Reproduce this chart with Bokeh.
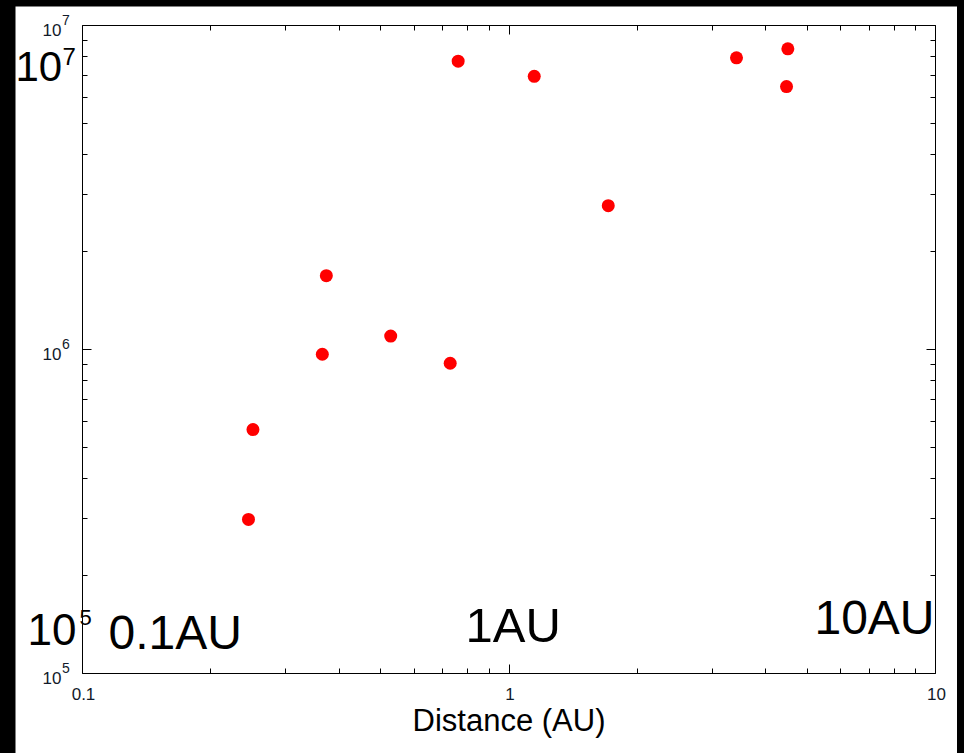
from bokeh.plotting import figure
from bokeh.models import LogAxis, Label, Range1d, FixedTicker
from bokeh.layouts import column
from bokeh.embed import file_html
from bokeh.resources import INLINE

# Measured points: orbital distance (AU) and value
distance_au = [0.245, 0.251, 0.365, 0.373, 0.528, 0.728, 0.760, 1.146, 1.709, 3.415, 4.506, 4.474]
values = [2.99e5, 5.66e5, 9.67e5, 1.69e6, 1.10e6, 9.07e5, 7.76e6, 6.97e6, 2.78e6, 7.95e6, 8.47e6, 6.48e6]

x_ticks = [0.1, 1, 10]
x_tick_labels = ["0.1", "1", "10"]
x_minor_ticks = [m * d for d in (0.1, 1) for m in range(2, 10)]
y_ticks = [1e5, 1e6, 1e7]
y_tick_exponents = ["5", "6", "7"]
y_minor_ticks = [m * d for d in (1e5, 1e6) for m in range(2, 10)]

x_title = "Distance (AU)"
au_marks = [0.1, 1, 10]
au_mark_labels = ["0.1AU", "1AU", "10AU"]

FONT = "Liberation Sans"

# Page geometry (pixels): the boxed plot area sits inside a white canvas
CANVAS_W, CANVAS_H = 942, 747
PAD_L, PAD_R, PAD_T, PAD_B = 67, 22, 19, 80
X_LO, X_HI = x_ticks[0], x_ticks[-1]
Y_LO, Y_HI = y_ticks[0], y_ticks[-1]
px_per_dec_x = (CANVAS_W - PAD_L - PAD_R) / 2
px_per_dec_y = (CANVAS_H - PAD_T - PAD_B) / 2

x_range = Range1d(X_LO / 10 ** (PAD_L / px_per_dec_x), X_HI * 10 ** (PAD_R / px_per_dec_x))
y_range = Range1d(Y_LO / 10 ** (PAD_B / px_per_dec_y), Y_HI * 10 ** (PAD_T / px_per_dec_y))

p = figure(
    width=CANVAS_W, height=CANVAS_H,
    x_axis_type="log", y_axis_type="log",
    x_axis_location=None, y_axis_location=None,
    x_range=x_range, y_range=y_range,
    output_backend="svg", toolbar_location=None,
    min_border=0,
    background_fill_color="white", border_fill_color="white",
)
p.margin = (6, 7, 0, 15)
p.xgrid.visible = False
p.ygrid.visible = False
p.outline_line_color = None

x_ticker = FixedTicker(ticks=x_ticks, minor_ticks=x_minor_ticks)
y_ticker = FixedTicker(ticks=y_ticks, minor_ticks=y_minor_ticks)

# four axes drawn as a closed box, ticks pointing inward
box_axes = [
    (LogAxis(ticker=x_ticker, fixed_location=Y_LO, bounds=(X_LO, X_HI)), "below"),
    (LogAxis(ticker=x_ticker, fixed_location=Y_HI, bounds=(X_LO, X_HI)), "above"),
    (LogAxis(ticker=y_ticker, fixed_location=X_LO, bounds=(Y_LO, Y_HI)), "left"),
    (LogAxis(ticker=y_ticker, fixed_location=X_HI, bounds=(Y_LO, Y_HI)), "right"),
]
for ax, side in box_axes:
    ax.axis_line_color = "black"
    ax.axis_line_width = 1
    ax.major_tick_line_color = "black"
    ax.minor_tick_line_color = "black"
    ax.major_tick_in = 9
    ax.major_tick_out = 0
    ax.minor_tick_in = 5
    ax.minor_tick_out = 0
    ax.major_label_text_color = None
    p.add_layout(ax, side)

p.scatter(distance_au, values, size=13, fill_color="#ff0000", line_color=None)


def add_label(x, y, text, size, dx=0, dy=0, align="left", color="black"):
    # dy is the baseline offset in pixels (up is positive)
    p.add_layout(Label(
        x=x, y=y, text=text, x_offset=dx, y_offset=dy + 0.37 * size,
        text_align=align, text_baseline="alphabetic",
        text_font=FONT, text_font_size=f"{size}px", text_color=color,
    ))


TICK_COLOR = "#111a2a"

# y tick labels: "10" with a raised exponent
for v, e in zip(y_ticks, y_tick_exponents):
    add_label(X_LO, v, "10", 17, dx=-21, dy=-10.5, align="right", color=TICK_COLOR)
    add_label(X_LO, v, e, 14, dx=-20.5, dy=0, align="left", color=TICK_COLOR)

# x tick labels
for t, lab in zip(x_ticks, x_tick_labels):
    add_label(t, Y_LO, lab, 17, dx=1, dy=-27, align="center", color=TICK_COLOR)

# x axis title
add_label(1, Y_LO, x_title, 31, dy=-58, align="center")

# large annotations
add_label(X_LO, Y_HI, "10", 42, dx=-67, dy=-57)
add_label(X_LO, Y_HI, y_tick_exponents[2], 24, dx=-20, dy=-40)
add_label(X_LO, Y_LO, "10", 44, dx=-55, dy=28)
add_label(X_LO, Y_LO, y_tick_exponents[0], 22, dx=-3, dy=48)

add_label(au_marks[0], Y_LO, au_mark_labels[0], 48, dx=26, dy=23)
add_label(au_marks[1], Y_LO, au_mark_labels[1], 49, dx=-43.5, dy=30)
add_label(au_marks[2], Y_LO, au_mark_labels[2], 48, dx=-1, dy=38, align="right")

page = column(p, width=964, height=753, styles={"background-color": "black"})

open("out.html", "w").write(file_html(page, INLINE))
